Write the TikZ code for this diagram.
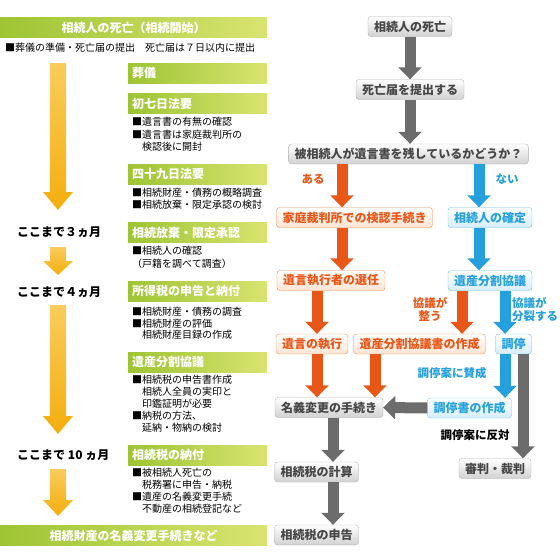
\documentclass[tikz,border=0pt]{standalone}
\usepackage{fontspec}
\setmainfont{Noto Sans CJK JP}
\usetikzlibrary{arrows.meta}

\definecolor{hdrL}{RGB}{158,196,52}
\definecolor{hdrR}{RGB}{216,228,112}
\definecolor{yelT}{RGB}{248,204,92}
\definecolor{yelB}{RGB}{244,174,14}
\definecolor{orgC}{RGB}{232,86,24}
\definecolor{orgE}{RGB}{238,140,84}
\definecolor{orgF}{RGB}{253,228,210}
\definecolor{bluC}{RGB}{38,160,220}
\definecolor{bluE}{RGB}{110,192,234}
\definecolor{bluF}{RGB}{214,237,250}
\definecolor{gryC}{RGB}{108,108,108}

\tikzset{
  hdr/.style={left color=hdrL, right color=hdrR, text=white, inner sep=0pt,
    minimum height=20pt, font=\fontsize{12}{14}\selectfont\bfseries},
  subhdr/.style={hdr, anchor=west, text width=131pt, inner xsep=4pt, align=left},
  item/.style={anchor=west, inner sep=0pt, font=\fontsize{10}{12}\selectfont},
  month/.style={anchor=west, inner sep=0pt, font=\fontsize{12}{14}\selectfont\bfseries},
  box/.style={rounded corners=3pt, inner xsep=6pt, inner ysep=0pt, minimum height=20pt,
    font=\fontsize{12}{14}\selectfont\bfseries},
  gbox/.style={box, draw=black!30, top color=white, bottom color=black!18, text=black!72},
  obox/.style={box, draw=orgE, top color=white, bottom color=orgF, text=orgC},
  bbox/.style={box, draw=bluE, top color=white, bottom color=bluF, text=bluC},
  lbl/.style={inner sep=0pt, font=\fontsize{11.5}{13}\selectfont\bfseries},
  blockarrow/.style={line width=11pt, -{Triangle[length=12pt,width=23pt]}},
  garrow/.style={blockarrow, draw=gryC},
  oarrow/.style={blockarrow, draw=orgC},
  barrow/.style={blockarrow, draw=bluC},
}

\newcommand\yelarrow[3]{%
  \shade[top color=yelT, bottom color=yelB]
    (50,#1) -- (66,#1) -- (66,#2) -- (73,#2) -- (58,#3) -- (43,#2) -- (50,#2) -- cycle;}

\begin{document}
\begin{tikzpicture}[x=1pt, y=-1pt]
  \path[use as bounding box] (0,0) rectangle (560,560);

  % left: time line
  \node[hdr, minimum width=267pt] (start) at (133.5,27.5) {相続人の死亡（相続開始）};
  \node[item] (first) at (5,48) {■葬儀の準備・死亡届の提出　死亡届は７日以内に提出};

  \node[subhdr] (sogi) at (128,73) {葬儀};
  \node[subhdr] (shonanoka) at (128,103.5) {初七日法要};
  \node[subhdr] (shijuku) at (128,174) {四十九日法要};
  \node[subhdr] (hoki) at (128,232.5) {相続放棄・限定承認};
  \node[subhdr] (shotoku) at (128,291) {所得税の申告と納付};
  \node[subhdr] (bunkatsu) at (128,362) {遺産分割協議};
  \node[subhdr] (nofu) at (128,455) {相続税の納付};

  \foreach \y/\t [count=\i] in {122/■遺言書の有無の確認, 134.5/■遺言書は家庭裁判所の,
      147/　検認後に開封, 193/■相続財産・債務の概略調査, 205/■相続放棄・限定承認の検討,
      251/■相続人の確認, 264/（戸籍を調べて調査）, 312/■相続財産・債務の調査,
      323.5/■相続財産の評価, 335/　相続財産目録の作成, 380/■相続税の申告書作成,
      392/　相続人全員の実印と, 404/　印鑑証明が必要, 416/■納税の方法、,
      428/　延納・物納の検討, 473/■被相続人死亡の, 485/　税務署に申告・納税,
      497/■遺産の名義変更手続, 509/　不動産の相続登記など}
    \node[item] (it\i) at (132,\y) {\t};

  \node[month] (m3) at (17,232) {ここまで３ヵ月};
  \node[month] (m4) at (17,292) {ここまで４ヵ月};
  \node[month] (m10) at (17,455) {ここまで 10 ヵ月};

  \yelarrow{63}{192}{210}
  \yelarrow{247}{261}{275}
  \yelarrow{305}{416}{434}
  \yelarrow{469}{500}{516}

  \node[hdr, minimum width=267pt] (end) at (133.5,535.5) {相続財産の名義変更手続きなど};

  % right: flow chart
  \node[gbox] (death) at (410,26.5) {相続人の死亡};
  \node[gbox] (todoke) at (410,89.5) {死亡届を提出する};
  \node[gbox] (will) at (408.5,154) {被相続人が遺言書を残しているかどうか？};
  \node[obox] (kennin) at (354.5,217.5) {家庭裁判所での検認手続き};
  \node[bbox] (kakutei) at (490,217.5) {相続人の確定};
  \node[obox] (senin) at (331,280.5) {遺言執行者の選任};
  \node[bbox] (kyogi) at (490,280.5) {遺産分割協議};
  \node[obox] (shikko) at (312,344) {遺言の執行};
  \node[obox] (kyogisho) at (419.5,344) {遺産分割協議書の作成};
  \node[bbox] (chotei) at (513.5,344) {調停};
  \node[bbox] (choteisho) at (469.5,408) {調停書の作成};
  \node[gbox] (meigi) at (329,407.5) {名義変更の手続き};
  \node[gbox] (keisan) at (316.5,472) {相続税の計算};
  \node[gbox] (shinkoku) at (316.5,535) {相続税の申告};
  \node[gbox] (shinpan) at (495,468.5) {審判・裁判};

  \node[lbl, text=orgC] (aru) at (313,179) {ある};
  \node[lbl, text=bluC] (nai) at (507,179) {ない};
  \node[lbl, text=orgC, align=center] (totonou) at (430,309.5) {協議が\\整う};
  \node[lbl, text=bluC, align=left, anchor=west] (bunretsu) at (512,309.5) {協議が\\分裂する};
  \node[lbl, text=bluC] (sansei) at (452,373) {調停案に賛成};
  \node[lbl] (hantai) at (475,435) {調停案に反対};

  \coordinate (xa) at (410,0);
  \coordinate (xb) at (342,0);
  \coordinate (xc) at (479,0);
  \coordinate (xd) at (317,0);
  \coordinate (xe) at (462,0);
  \coordinate (xf) at (505,0);
  \coordinate (xg) at (375,0);
  \coordinate (xh) at (523,0);
  \coordinate (xi) at (333,0);

  \draw[garrow] (death.south -| xa) -- (todoke.north -| xa);
  \draw[garrow] (todoke.south -| xa) -- (will.north -| xa);
  \draw[oarrow] (will.south -| xb) -- (kennin.north -| xb);
  \draw[oarrow] (kennin.south -| xb) -- (senin.north -| xb);
  \draw[barrow] (will.south -| xc) -- (kakutei.north -| xc);
  \draw[barrow] (kakutei.south -| xc) -- (kyogi.north -| xc);
  \draw[oarrow] (senin.south -| xd) -- (shikko.north -| xd);
  \draw[oarrow] (kyogi.south -| xe) -- (kyogisho.north -| xe);
  \draw[barrow] (kyogi.south -| xf) -- (chotei.north -| xf);
  \draw[oarrow] (shikko.south -| xd) -- (meigi.north -| xd);
  \draw[oarrow] (kyogisho.south -| xg) -- (meigi.north -| xg);
  \draw[barrow] (chotei.south -| xf) -- (choteisho.north -| xf);
  \draw[garrow] (chotei.south -| xh) -- (shinpan.north -| xh);
  \draw[garrow] (choteisho.west) -- (meigi.east);
  \draw[garrow] (meigi.south -| xi) -- (keisan.north -| xi);
  \draw[garrow] (keisan.south -| xi) -- (shinkoku.north -| xi);
\end{tikzpicture}
\end{document}
